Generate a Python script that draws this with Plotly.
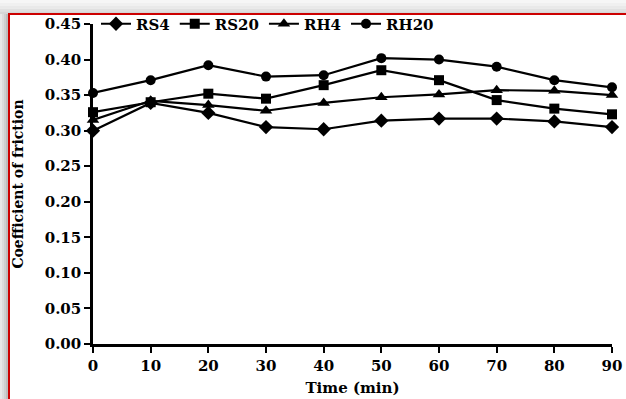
import plotly.graph_objects as go

time = [0, 10, 20, 30, 40, 50, 60, 70, 80, 90]
rs4 = [0.300, 0.339, 0.325, 0.305, 0.302, 0.314, 0.317, 0.317, 0.313, 0.305]
rs20 = [0.326, 0.340, 0.352, 0.345, 0.364, 0.385, 0.371, 0.343, 0.331, 0.323]
rh4 = [0.315, 0.342, 0.336, 0.328, 0.339, 0.347, 0.351, 0.357, 0.356, 0.350]
rh20 = [0.353, 0.371, 0.392, 0.376, 0.378, 0.402, 0.400, 0.390, 0.371, 0.361]
xticks = [0, 10, 20, 30, 40, 50, 60, 70, 80, 90]
yticks = [0.00, 0.05, 0.10, 0.15, 0.20, 0.25, 0.30, 0.35, 0.40, 0.45]

W, H = 626, 399
L, R, T, B = 93, 14, 24, 55
pw, ph = W - L - R, H - T - B

def px(q):
    return (q - L) / pw

def py(p):
    return (H - B - p) / ph

font = "DejaVu Serif"
fig = go.Figure()
series = [("RS4", rs4, "diamond", 11), ("RS20", rs20, "square", 10),
          ("RH4", rh4, "triangle-up", 11), ("RH20", rh20, "circle", 10)]
for name, vals, sym, sz in series:
    fig.add_trace(go.Scatter(
        x=time, y=vals, name=name, mode="lines+markers",
        line=dict(color="black", width=2.2),
        marker=dict(symbol=sym, size=sz, color="black"),
        cliponaxis=False))

shapes = []
grays = ["#f6f6f6", "#f0f0f0", "#e9e9e9", "#e0e0e0", "#d6d6d6"]
for i, g in enumerate(grays):
    p0 = i * 14 / len(grays)
    p1 = (i + 1) * 14 / len(grays)
    shapes.append(dict(type="rect", xref="paper", yref="paper",
                       x0=px(0), x1=px(W), y0=py(p1), y1=py(p0),
                       fillcolor=g, line=dict(width=0), layer="above"))
lgrays = ["#e8e8e8", "#dcdcdc", "#cfcfcf", "#bdbdbd"]
for i, g in enumerate(lgrays):
    shapes.append(dict(type="rect", xref="paper", yref="paper",
                       x0=px(i * 2), x1=px(i * 2 + 2), y0=py(H), y1=py(14),
                       fillcolor=g, line=dict(width=0), layer="above"))
shapes.append(dict(type="line", xref="paper", yref="paper",
                   x0=px(8), x1=px(W), y0=py(14), y1=py(14),
                   line=dict(color="#cc0000", width=2), layer="above"))
shapes.append(dict(type="line", xref="paper", yref="paper",
                   x0=px(9), x1=px(9), y0=py(14), y1=py(H),
                   line=dict(color="#cc0000", width=2), layer="above"))

fig.update_layout(
    width=W, height=H,
    margin=dict(l=L, r=R, t=T, b=B, autoexpand=False),
    paper_bgcolor="white", plot_bgcolor="white",
    font=dict(family=font, color="black"),
    showlegend=True,
    legend=dict(orientation="h", x=px(96), y=1.0, xanchor="left", yanchor="middle",
                font=dict(family=font, size=15, color="black", weight="bold"),
                bgcolor="rgba(0,0,0,0)", itemwidth=30, tracegroupgap=0,
                traceorder="normal"),
    shapes=shapes,
    xaxis=dict(range=[0, 90], tickvals=xticks, ticktext=[str(v) for v in xticks],
               showline=True, linecolor="black", linewidth=2.5,
               ticks="outside", ticklen=6, tickwidth=2, tickcolor="black",
               showgrid=False, zeroline=False, automargin=False,
               tickfont=dict(family=font, size=15, weight="bold"),
               title=dict(text="Time (min)", standoff=9,
                          font=dict(family=font, size=15, weight="bold"))),
    yaxis=dict(range=[0, 0.45], tickvals=yticks, ticktext=["%.2f" % v for v in yticks],
               showline=True, linecolor="black", linewidth=2.5,
               ticks="outside", ticklen=6, tickwidth=2, tickcolor="black",
               showgrid=False, zeroline=False, automargin=False,
               tickfont=dict(family=font, size=15, weight="bold"),
               title=dict(text="Coefficient of friction", standoff=18,
                          font=dict(family=font, size=14, weight="bold"))),
)

fig.write_html("out.html", config={"displayModeBar": False},
               post_script="document.body.style.margin='0';document.body.style.padding='0';")
